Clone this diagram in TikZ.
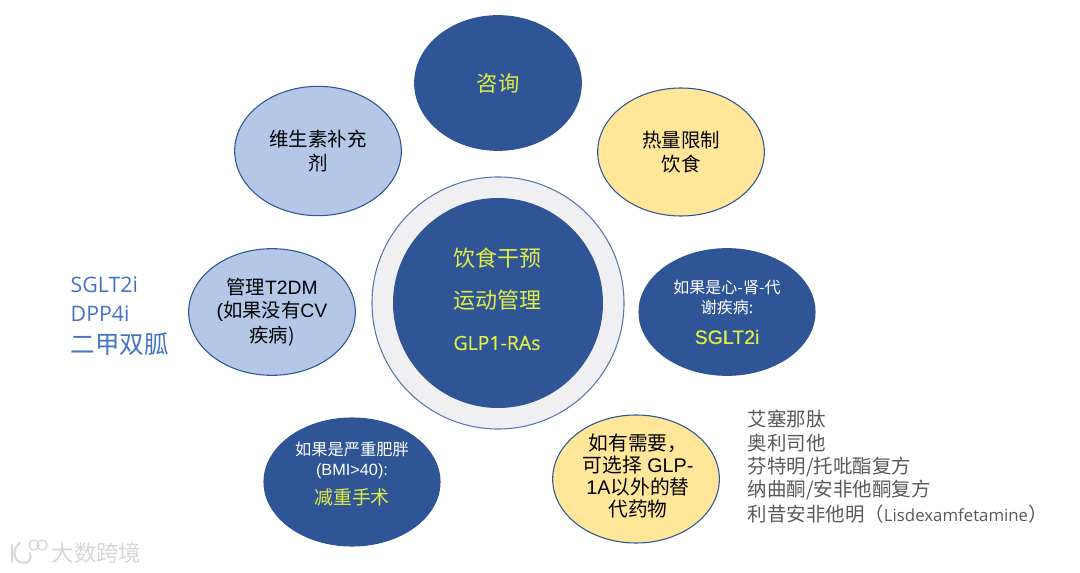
\documentclass[tikz,border=0pt]{standalone}
\usepackage{fontspec}
\usepackage{xcolor}
\usetikzlibrary{shapes.geometric}
\setmainfont{Liberation Sans}
\newfontfamily\cjk{Noto Sans CJK SC}
\newfontfamily\opensans{Open Sans}
\newfontfamily\opensanslime[FakeBold=0.4]{Open Sans}
\newfontfamily\arialime[FakeBold=0.4]{Liberation Sans}
\definecolor{darkblue}{HTML}{2F5597}
\definecolor{paleblue}{HTML}{B4C7E7}
\definecolor{paleyellow}{HTML}{FFE699}
\definecolor{ringgray}{HTML}{F0F0F2}
\definecolor{limetext}{HTML}{E0EE45}
\definecolor{sideblue}{HTML}{4472C4}
\definecolor{sidegray}{HTML}{595959}
\newcommand{\fsz}[1]{\fontsize{#1}{#1}\selectfont}
\tikzset{
  blob/.style={ellipse, draw=darkblue, line width=0.8pt, align=center, inner sep=0pt, text=black},
  darkblob/.style={blob, fill=darkblue, text=limetext},
  blueblob/.style={blob, fill=paleblue},
  yellowblob/.style={blob, fill=paleyellow}
}
\begin{document}
\begin{tikzpicture}[x=0.75pt, y=-0.75pt]
  \useasboundingbox (0,0) rectangle (1080,573);

  % Centre ring
  \node[circle, draw=darkblue!80, fill=ringgray, line width=0.8pt, minimum size=189pt, inner sep=0pt] (ring) at (498,303) {};
  \node[circle, fill=darkblue, minimum size=157.5pt, inner sep=0pt] (hub) at (498,303) {};
  \node[text=limetext, font=\cjk\fsz{16.5}] (hubdiet) at (497,258) {饮食干预};
  \node[text=limetext, font=\cjk\fsz{16.5}] (hubsport) at (497,300) {运动管理};
  \node[text=limetext, font=\opensanslime\fsz{14.6}] (hubdrug) at (497,343) {GLP1-RAs};

  % Outer ellipses
  \node[darkblob, minimum width=125pt, minimum height=101pt, font=\cjk\fsz{16}] (consult) at (498,83) {咨询};
  \node[yellowblob, minimum width=125pt, minimum height=96pt, font=\cjk\fsz{14.6}, text=black] (calorie) at (681,152) {热量限制\\[3pt]饮食};
  \node[blueblob, minimum width=125pt, minimum height=97pt, font=\cjk\fsz{14.6}] (vitamin) at (318,151) {维生素补充\\[3pt]剂};
  \node[darkblob, minimum width=132pt, minimum height=95pt] (cardio) at (727,312) {};
  \node[blueblob, minimum width=125pt, minimum height=95pt] (diabetes) at (272,312) {};
  \node[darkblob, minimum width=132pt, minimum height=96pt] (surgery) at (352,482) {};
  \node[yellowblob, minimum width=125pt, minimum height=96pt] (other) at (636,479) {};

  % Ellipse texts
  \node[text=white, align=center, font=\cjk\fsz{12}] (cardiotext) at (727,297) {如果是心-肾-代\\[3pt]谢疾病:};
  \node[text=limetext, font=\arialime\fsz{14.6}] (cardiodrug) at (727,337) {SGLT2i};
  \node[align=center, font=\fsz{14.5}] (diabetestext) at (272,312) {{\cjk 管理}T2DM\\[2.5pt]({\cjk 如果没有}CV\\[2.5pt]{\cjk 疾病)}};
  \node[text=white, align=center, font=\fsz{12.2}] (surgerytext) at (352,460) {{\cjk 如果是严重肥胖}\\[3pt](BMI>40):};
  \node[text=limetext, font=\cjk\fsz{14.2}] (surgerydrug) at (352,497) {减重手术};
  \node[align=center, font=\fsz{14.8}] (othertext) at (638,476) {{\cjk 如有需要，}\\[1.5pt]{\cjk 可选择} GLP-\\[1.5pt]1A{\cjk 以外的替}\\[1.5pt]{\cjk 代药物}};

  % Side lists
  \node[anchor=west, text=sideblue, font=\opensans\fsz{16}] (leftone) at (66,285) {SGLT2i};
  \node[anchor=west, text=sideblue, font=\opensans\fsz{16}] (lefttwo) at (66,314) {DPP4i};
  \node[anchor=west, text=sideblue, font=\cjk\fsz{18.4}] (leftthree) at (66,344) {二甲双胍};
  \node[anchor=west, text=sidegray, font=\cjk\fsz{14.6}] (rightone) at (743,419) {艾塞那肽};
  \node[anchor=west, text=sidegray, font=\cjk\fsz{14.6}] (righttwo) at (743,443) {奥利司他};
  \node[anchor=west, text=sidegray, font=\cjk\fsz{14.6}] (rightthree) at (743,467) {芬特明/托吡酯复方};
  \node[anchor=west, text=sidegray, font=\cjk\fsz{14.6}] (rightfour) at (743,490) {纳曲酮/安非他酮复方};
  \node[anchor=west, text=sidegray, font=\cjk\fsz{14.6}] (rightfive) at (743,514) {利昔安非他明（{\opensans\fsz{12.6}Lisdexamfetamine}）};

  % Watermark
  \draw[gray!30, line width=1.6pt, line cap=round] (12,545) -- (12,562) (20,543) .. controls (10,550) and (14,566) .. (28,562) (28,562) .. controls (31,558) and (31,556) .. (30,553);
  \draw[gray!30, line width=1pt] (34,545) circle [radius=5] (42,545) circle [radius=5];
  \node[anchor=west, text=gray!32, font=\cjk\fsz{16.8}] (mark) at (47,553) {大数跨境};
\end{tikzpicture}
\end{document}
